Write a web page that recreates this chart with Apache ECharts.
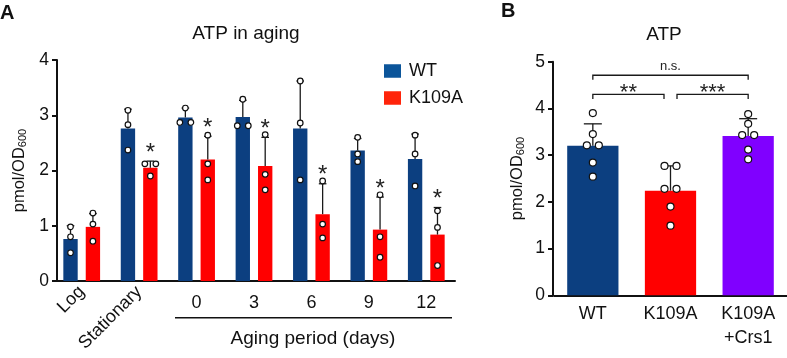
<!DOCTYPE html>
<html><head><meta charset="utf-8">
<script src="https://cdn.jsdelivr.net/npm/echarts@6/dist/echarts.min.js"></script>
<style>html,body{margin:0;padding:0;background:#fff}#c{width:787px;height:358px}</style>
</head><body><div id="c"></div>
<script>
// ---------- Panel A data ----------
const agingCategories = ['Log', 'Stationary', '0', '3', '6', '9', '12'];
const wtMean = [0.76, 2.76, 2.96, 2.97, 2.76, 2.36, 2.21];
const wtSD = [0.24, 0.35, 0.17, 0.30, 0.86, 0.22, 0.45];
const wtPoints = [[0.98, 0.80, 0.51], [3.09, 2.83, 2.37], [3.13, 2.87, 2.87], [3.29, 2.81, 2.81], [3.62, 2.86, 1.83], [2.60, 2.30, 2.16], [2.64, 2.30, 1.72]];
const k109aMean = [0.98, 2.05, 2.20, 2.08, 1.21, 0.93, 0.84];
const k109aSD = [0.24, 0.12, 0.42, 0.52, 0.55, 0.59, 0.49];
const k109aPoints = [[1.23, 1.03, 0.72], [2.12, 2.12, 1.90], [2.64, 2.12, 1.83], [2.65, 1.93, 1.65], [1.81, 1.03, 0.78], [1.56, 0.80, 0.43], [1.27, 0.97, 0.28]];
const k109aSig = ['', '*', '*', '*', '*', '*', '*'];
const agingTicks = [0, 1, 2, 3, 4];

// ---------- Panel B data ----------
const strainCategories = ['WT', 'K109A', 'K109A\n+Crs1'];
const strainMean = [3.20, 2.24, 3.41];
const strainSD = [0.47, 0.53, 0.37];
const strainPoints = [[3.90, 3.45, 3.21, 3.21, 2.84, 2.54], [2.77, 2.77, 2.28, 2.28, 1.90, 1.49], [3.88, 3.67, 3.43, 3.43, 3.12, 2.91]];
const bracketFrom = [0, 0, 1];
const bracketTo = [2, 1, 2];
const bracketLevel = [4.71, 4.30, 4.30];
const bracketLabel = ['n.s.', '**', '***'];
const strainTicks = [0, 1, 2, 3, 4, 5];

const FONT = 'Liberation Sans, Arial, Helvetica, sans-serif';
const C_WT = '#0c3f80', C_K = '#ff0000', C_CRS = '#8000ff';

const chart = echarts.init(document.getElementById('c'), null, {renderer: 'canvas'});

function jitterX(ys, spacing) {
  // spread points that would overlap vertically
  const idx = ys.map((y, k) => k).sort((a, b) => ys[a] - ys[b]);
  const off = new Array(ys.length).fill(0);
  let cluster = [idx[0]];
  const flush = () => {
    const n = cluster.length;
    cluster.forEach((k, j) => { off[k] = (j - (n - 1) / 2) * spacing; });
  };
  for (let j = 1; j < idx.length; j++) {
    if (Math.abs(ys[idx[j]] - ys[cluster[cluster.length - 1]]) < spacing * 0.6) cluster.push(idx[j]);
    else { flush(); cluster = [idx[j]]; }
  }
  flush();
  return off;
}

function makeRenderer(opt) {
  return function (params, api) {
    const i = api.value(0);
    const band = api.size([1, 0])[0];
    const bw = band * opt.barFrac;
    const shift = opt.side * (bw + bw * opt.gapFrac) / 2;
    const base = api.coord([i, opt.mean[i]]);
    const cx = base[0] + shift;
    const topY = api.coord([i, opt.mean[i] + opt.sd[i]])[1];
    const half = opt.capHalf;
    const ls = {stroke: '#1a1a1a', lineWidth: 1.3};
    const children = [
      {type: 'line', shape: {x1: cx, y1: base[1], x2: cx, y2: topY}, style: ls},
      {type: 'line', shape: {x1: cx - half, y1: topY, x2: cx + half, y2: topY}, style: ls}
    ];
    const ys = opt.pts[i].map(v => api.coord([i, v])[1]);
    const offs = jitterX(ys, opt.spacing);
    ys.forEach((y, k) => {
      children.push({type: 'circle', shape: {cx: cx + offs[k], cy: y, r: opt.r},
        style: {fill: '#fff', stroke: '#111', lineWidth: 1.2}});
    });
    if (opt.sig && opt.sig[i]) {
      children.push({type: 'text', style: {text: opt.sig[i], x: cx, y: topY + 4, align: 'center',
        verticalAlign: 'bottom', fontSize: 24, fontFamily: FONT, fill: '#222'}});
    }
    return {type: 'group', children};
  };
}

function bracketRenderer(params, api) {
  const b = params.dataIndex;
  const i1 = bracketFrom[b], i2 = bracketTo[b];
  const y = api.coord([i1, bracketLevel[b]])[1];
  let x1 = api.coord([i1, 0])[0], x2 = api.coord([i2, 0])[0];
  // inset ends shared with another bracket on the same level
  bracketLevel.forEach((lv, o) => {
    if (o === b || lv !== bracketLevel[b]) return;
    if (bracketFrom[o] === i2 || bracketTo[o] === i2) x2 -= 6.5;
    if (bracketFrom[o] === i1 || bracketTo[o] === i1) x1 += 6.5;
  });
  const drop = 4.5;
  const ls = {stroke: '#1a1a1a', lineWidth: 1.3, fill: null};
  const isStar = bracketLabel[b].indexOf('*') >= 0;
  return {type: 'group', children: [
    {type: 'polyline', shape: {points: [[x1, y + drop], [x1, y], [x2, y], [x2, y + drop]]}, style: ls},
    {type: 'text', style: {text: bracketLabel[b], x: (x1 + x2) / 2, y: isStar ? y - 1 : y - 8.5,
      align: 'center', verticalAlign: 'middle', fontSize: isStar ? 22 : 13, fontFamily: FONT, fill: '#222'}}
  ]};
}

const yNameA = {
  name: '{a|pmol/OD}{b|600}', nameLocation: 'middle', nameGap: 28, nameRotate: 90,
  nameTextStyle: {rich: {a: {fontSize: 16.5, fontFamily: FONT, color: '#111'},
    b: {fontSize: 11, fontFamily: FONT, color: '#111', verticalAlign: 'bottom'}}}
};

const option = {
  backgroundColor: '#fff',
  animation: false,
  textStyle: {fontFamily: FONT},
  grid: [
    {left: 53, top: 60, width: 402, height: 221, containLabel: false, outerBoundsMode: 'none'},
    {left: 554, top: 61.7, width: 233, height: 233.6, containLabel: false, outerBoundsMode: 'none'}
  ],
  legend: {
    orient: 'vertical', left: 379, top: 57, icon: 'rect', itemWidth: 17, itemHeight: 13.5, itemGap: 9,
    textStyle: {fontSize: 18, fontFamily: FONT, color: '#111', padding: [0, 0, 0, 3]},
    data: [{name: 'WT', itemStyle: {color: '#0b559a'}}, {name: 'K109A', itemStyle: {color: '#ff240a'}}]
  },
  xAxis: [
    {type: 'category', gridIndex: 0, position: 'bottom', data: agingCategories,
      axisLine: {lineStyle: {color: '#111', width: 2}}, axisTick: {length: 6, lineStyle: {color: '#111', width: 2}, alignWithLabel: true},
      axisLabel: {rotate: 45, interval: (i) => i < 2, fontSize: 18, color: '#111', fontFamily: FONT, margin: 8}},
    {type: 'category', gridIndex: 0, position: 'bottom', data: agingCategories,
      axisLine: {show: false}, axisTick: {show: false},
      axisLabel: {interval: (i) => i >= 2, fontSize: 18, color: '#111', fontFamily: FONT, margin: 13}},
    {type: 'category', gridIndex: 1, position: 'bottom', data: strainCategories,
      axisLine: {lineStyle: {color: '#111', width: 2}}, axisTick: {show: false},
      axisLabel: {interval: 0, fontSize: 18, lineHeight: 24, color: '#111', fontFamily: FONT, margin: 7}}
  ],
  yAxis: [
    Object.assign({type: 'value', gridIndex: 0, min: agingTicks[0], max: agingTicks[agingTicks.length - 1], interval: 1, offset: -4,
      axisLine: {show: true, lineStyle: {color: '#111', width: 2}}, axisTick: {show: true, length: 5, lineStyle: {color: '#111', width: 2}},
      splitLine: {show: false}, axisLabel: {fontSize: 17.5, color: '#111', fontFamily: FONT, margin: 8}}, yNameA),
    Object.assign({type: 'value', gridIndex: 1, min: strainTicks[0], max: strainTicks[strainTicks.length - 1], interval: 1, offset: 1,
      axisLine: {show: true, lineStyle: {color: '#111', width: 2}}, axisTick: {show: true, length: 5, lineStyle: {color: '#111', width: 2}},
      splitLine: {show: false}, axisLabel: {fontSize: 17.5, color: '#111', fontFamily: FONT, margin: 8}}, yNameA, {nameGap: 27})
  ],
  series: [
    {name: 'WT', type: 'bar', xAxisIndex: 0, yAxisIndex: 0, data: wtMean, barWidth: '25%', barGap: '56%',
      itemStyle: {color: C_WT}},
    {name: 'K109A', type: 'bar', xAxisIndex: 0, yAxisIndex: 0, data: k109aMean, barWidth: '25%', barGap: '56%',
      itemStyle: {color: C_K}},
    {name: 'WT dots', type: 'custom', xAxisIndex: 0, yAxisIndex: 0, z: 5,
      data: wtMean.map((m, i) => [i, m]), encode: {x: 0, y: 1},
      renderItem: makeRenderer({side: -1, barFrac: 0.25, gapFrac: 0.56, mean: wtMean, sd: wtSD, pts: wtPoints, capHalf: 3.8, spacing: 11, r: 2.8})},
    {name: 'K109A dots', type: 'custom', xAxisIndex: 0, yAxisIndex: 0, z: 5,
      data: k109aMean.map((m, i) => [i, m]), encode: {x: 0, y: 1},
      renderItem: makeRenderer({side: 1, barFrac: 0.25, gapFrac: 0.56, mean: k109aMean, sd: k109aSD, pts: k109aPoints, sig: k109aSig, capHalf: 3.8, spacing: 11, r: 2.8})},
    {name: 'ATP', type: 'bar', xAxisIndex: 2, yAxisIndex: 1, barWidth: '66%',
      data: strainMean.map((v, i) => ({value: v, itemStyle: {color: [C_WT, C_K, C_CRS][i]}}))},
    {name: 'ATP dots', type: 'custom', xAxisIndex: 2, yAxisIndex: 1, z: 5,
      data: strainMean.map((m, i) => [i, m]), encode: {x: 0, y: 1},
      renderItem: makeRenderer({side: 0, barFrac: 0.66, gapFrac: 0, mean: strainMean, sd: strainSD, pts: strainPoints, capHalf: 9, spacing: 12, r: 3.5})},
    {name: 'brackets', type: 'custom', xAxisIndex: 2, yAxisIndex: 1, z: 5,
      data: bracketLevel.map((lv, b) => [bracketFrom[b], lv]), encode: {x: 0, y: 1},
      renderItem: bracketRenderer}
  ],
  graphic: [
    {type: 'text', left: 0, top: 3, style: {text: 'A', fontSize: 20, fontWeight: 'bold', fontFamily: FONT, fill: '#111'}},
    {type: 'text', left: 501, top: 1, style: {text: 'B', fontSize: 20, fontWeight: 'bold', fontFamily: FONT, fill: '#111'}},
    {type: 'text', x: 246, y: 34, style: {text: 'ATP in aging', align: 'center', verticalAlign: 'middle', fontSize: 19, fontFamily: FONT, fill: '#111'}},
    {type: 'text', x: 664, y: 35, style: {text: 'ATP', align: 'center', verticalAlign: 'middle', fontSize: 19, fontFamily: FONT, fill: '#111'}},
    {type: 'line', shape: {x1: 175, y1: 317.7, x2: 452, y2: 317.7}, style: {stroke: '#111', lineWidth: 1.6}},
    {type: 'text', x: 313, y: 339, style: {text: 'Aging period (days)', align: 'center', verticalAlign: 'middle', fontSize: 19, fontFamily: FONT, fill: '#111'}}
  ]
};
chart.setOption(option);
</script>
</body></html>
